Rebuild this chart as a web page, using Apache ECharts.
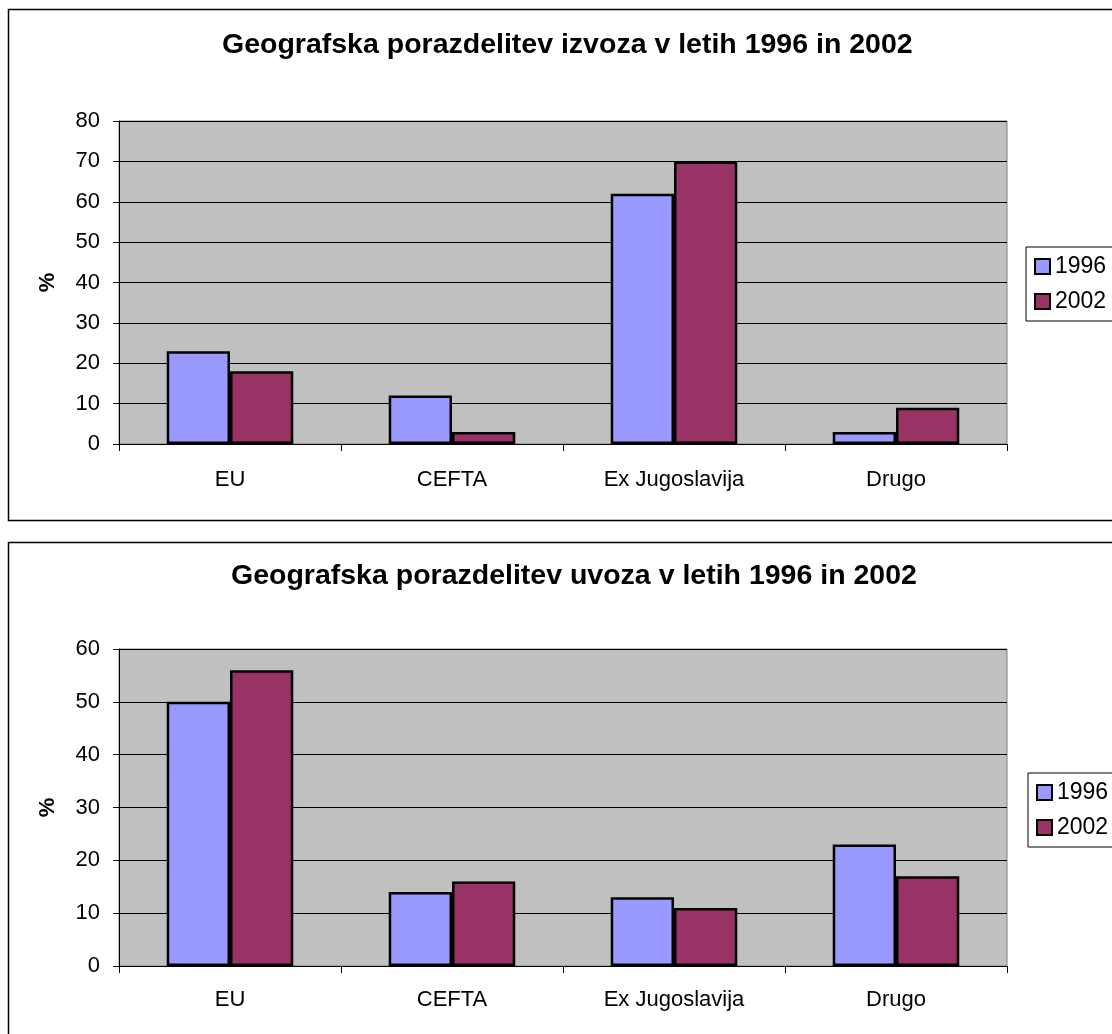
<!DOCTYPE html>
<html>
<head>
<meta charset="utf-8">
<script src="https://cdn.jsdelivr.net/npm/echarts@6/dist/echarts.min.js"></script>
<style>
html,body{margin:0;padding:0;background:#fff;}
#c{width:1112px;height:1034px;}
</style>
</head>
<body>
<div id="c"></div>
<script>
var categories = ['EU', 'CEFTA', 'Ex Jugoslavija', 'Drugo'];
var seriesNames = ['1996', '2002'];
var export1996 = [23, 12, 62, 3];
var export2002 = [18, 3, 70, 9];
var import1996 = [50, 14, 13, 23];
var import2002 = [56, 16, 11, 17];
var exportTitle = 'Geografska porazdelitev izvoza v letih 1996 in 2002';
var importTitle = 'Geografska porazdelitev uvoza v letih 1996 in 2002';
var yAxisName = '%';

var FONT = "'Liberation Sans', Arial, sans-serif";
var colors = ['#9999FF', '#993366'];

function xAxisCfg(gi, margin) {
  return {
    type: 'category', gridIndex: gi, data: categories,
    axisLine: {lineStyle: {color: '#000', width: 1}},
    axisTick: {show: true, length: 7, lineStyle: {color: '#000'}},
    axisLabel: {color: '#000', fontSize: 22, fontFamily: FONT, margin: margin},
    splitLine: {show: false}
  };
}
function yAxisCfg(gi, max) {
  return {
    type: 'value', gridIndex: gi, min: 0, max: max, interval: 10,
    name: yAxisName, nameLocation: 'middle', nameGap: 60, nameRotate: 90,
    nameTextStyle: {color: '#000', fontSize: 22, fontWeight: 'bold', fontFamily: FONT},
    axisLine: {show: true, lineStyle: {color: '#000', width: 1}},
    axisTick: {show: true, length: 6, lineStyle: {color: '#000'}},
    axisLabel: {color: '#000', fontSize: 22, fontFamily: FONT, margin: 19},
    splitLine: {show: true, lineStyle: {color: '#000', width: 1}}
  };
}
function barSeries(name, data, gi, ci) {
  return {
    name: name, type: 'bar', xAxisIndex: gi, yAxisIndex: gi, data: data,
    barGap: '0%', barCategoryGap: '43%',
    itemStyle: {color: colors[ci], borderColor: '#000', borderWidth: 2.5},
    emphasis: {disabled: true},
    animation: false
  };
}

var chart = echarts.init(document.getElementById('c'), null, {renderer: 'canvas'});
chart.setOption({
  backgroundColor: '#fff',
  animation: false,
  color: colors,
  title: [
    {text: exportTitle, left: 222, top: 31, padding: 0,
     textStyle: {color: '#000', fontSize: 28.5, fontWeight: 'bold', fontFamily: FONT}},
    {text: importTitle, left: 231, top: 562, padding: 0,
     textStyle: {color: '#000', fontSize: 28.5, fontWeight: 'bold', fontFamily: FONT}}
  ],
  legend: [
    {data: seriesNames, orient: 'vertical', left: 1026, top: 247,
     padding: [8, 30, 8, 8], itemGap: 12, itemWidth: 15, itemHeight: 15,
     borderColor: '#000', borderWidth: 1, icon: 'rect',
     textStyle: {color: '#000', fontSize: 23, fontFamily: FONT},
     selectedMode: false},
    {data: seriesNames, orient: 'vertical', left: 1028, top: 773,
     padding: [8, 30, 8, 8], itemGap: 12, itemWidth: 15, itemHeight: 15,
     borderColor: '#000', borderWidth: 1, icon: 'rect',
     textStyle: {color: '#000', fontSize: 23, fontFamily: FONT},
     selectedMode: false}
  ],
  grid: [
    {left: 119, top: 121, width: 888, height: 323, show: true,
     backgroundColor: '#C0C0C0', borderColor: '#808080', borderWidth: 1},
    {left: 119, top: 649, width: 888, height: 317, show: true,
     backgroundColor: '#C0C0C0', borderColor: '#808080', borderWidth: 1}
  ],
  xAxis: [xAxisCfg(0, 25), xAxisCfg(1, 23)],
  yAxis: [yAxisCfg(0, 80), yAxisCfg(1, 60)],
  series: [
    barSeries(seriesNames[0], export1996, 0, 0),
    barSeries(seriesNames[1], export2002, 0, 1),
    barSeries(seriesNames[0], import1996, 1, 0),
    barSeries(seriesNames[1], import2002, 1, 1)
  ],
  graphic: [
    {type: 'rect', shape: {x: 8.5, y: 9.5, width: 1130, height: 511},
     style: {fill: 'none', stroke: '#000', lineWidth: 1.5}, silent: true, z: -1},
    {type: 'rect', shape: {x: 8.5, y: 542.5, width: 1130, height: 520},
     style: {fill: 'none', stroke: '#000', lineWidth: 1.5}, silent: true, z: -1}
  ]
});
</script>
</body>
</html>
